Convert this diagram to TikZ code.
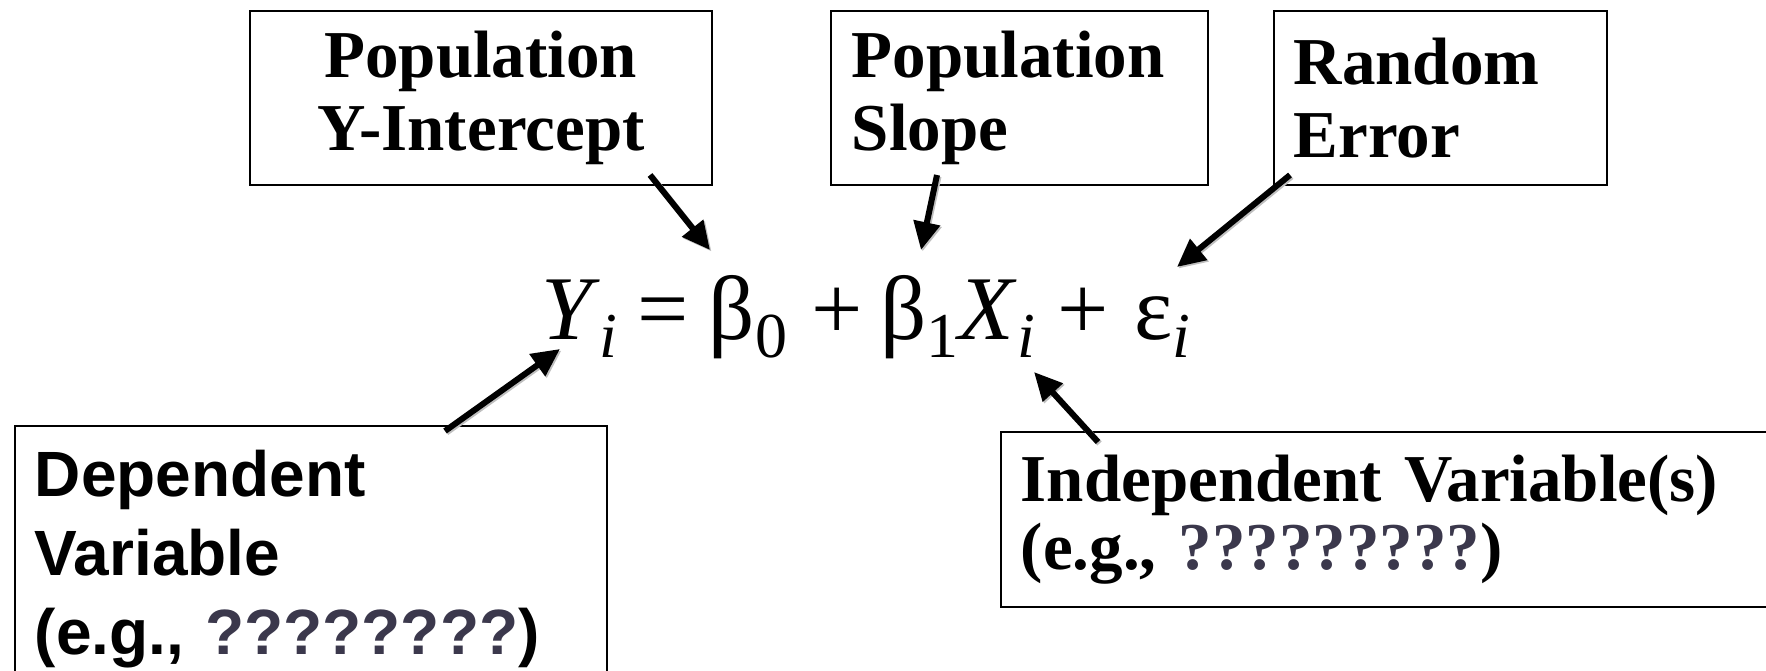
\documentclass[tikz,border=0pt]{standalone}
\usepackage{fontspec}
\setmainfont{Liberation Serif}
\newfontfamily\arialfont{Liberation Sans}
\usetikzlibrary{arrows.meta}
\definecolor{qcol}{RGB}{59,56,76}
\newcommand\eqsub[1]{\raisebox{-18pt}{\fontsize{64}{64}\selectfont #1}}
\begin{document}
\begin{tikzpicture}[x=1pt,y=-1pt,
  box/.style={draw=black, line width=1.6pt, anchor=north west},
  serifbold/.style={font=\bfseries\fontsize{67}{73}\selectfont},
  arr/.style={-{Triangle[length=28pt,width=26pt]}, line width=6pt,
    preaction={draw=black!25, line width=6pt, transform canvas={shift={(1.5pt,-1.5pt)}}}}]
\useasboundingbox (0,0) rectangle (1766,671);
\clip (0,0) rectangle (1766,671);

\node[box, serifbold, minimum width=462pt, minimum height=174pt, inner xsep=20pt,
  text width=422pt, align=center] (A) at (249,10) {Population\\Y-Intercept};
\node[box, serifbold, minimum width=377pt, minimum height=174pt, inner xsep=21pt,
  text width=335pt, align=left] (B) at (830,10) {Population\\Slope};
\node[box, serifbold, minimum width=333pt, minimum height=174pt, inner xsep=20pt,
  text width=293pt, align=left] (C) at (1273,10) {Random\\Error};
\node[box, font=\arialfont\bfseries\fontsize{64}{79}\selectfont, inner xsep=20pt, inner ysep=24pt,
  text width=552pt, align=left] (D) at (14,425) {Dependent\\Variable\\(e.g., \textcolor{qcol}{????????})};
\node[box, font=\bfseries\fontsize{67}{68}\selectfont, minimum height=175pt, inner xsep=20pt,
  text width=780pt, align=left] (E) at (1000,431) {Independent Variable(s)\\(e.g., \textcolor{qcol}{?????????})};

\node[anchor=base west, inner sep=0pt, font=\fontsize{91}{91}\selectfont] (eq) at (541,339)
  {\textit{Y}\eqsub{\textit{i}}\hspace{0.22em}=\hspace{0.22em}β\eqsub{0}\hspace{0.26em}+\hspace{0.2em}β\eqsub{1}\textit{X}\eqsub{\textit{i}}\hspace{0.25em}+\hspace{0.28em}ε\eqsub{\textit{i}}};

\coordinate (a1s) at (650,175); \coordinate (a1e) at (710,250);
\coordinate (a2s) at (937,175); \coordinate (a2e) at (921,250);
\coordinate (a3s) at (1290,175); \coordinate (a3e) at (1177,267);
\coordinate (a4s) at (445,431); \coordinate (a4e) at (560,349);
\coordinate (a5s) at (1098,442); \coordinate (a5e) at (1034,372);
\draw[arr] (a1s) -- (a1e);
\draw[arr] (a2s) -- (a2e);
\draw[arr] (a3s) -- (a3e);
\draw[arr] (a4s) -- (a4e);
\draw[arr] (a5s) -- (a5e);
\end{tikzpicture}
\end{document}
